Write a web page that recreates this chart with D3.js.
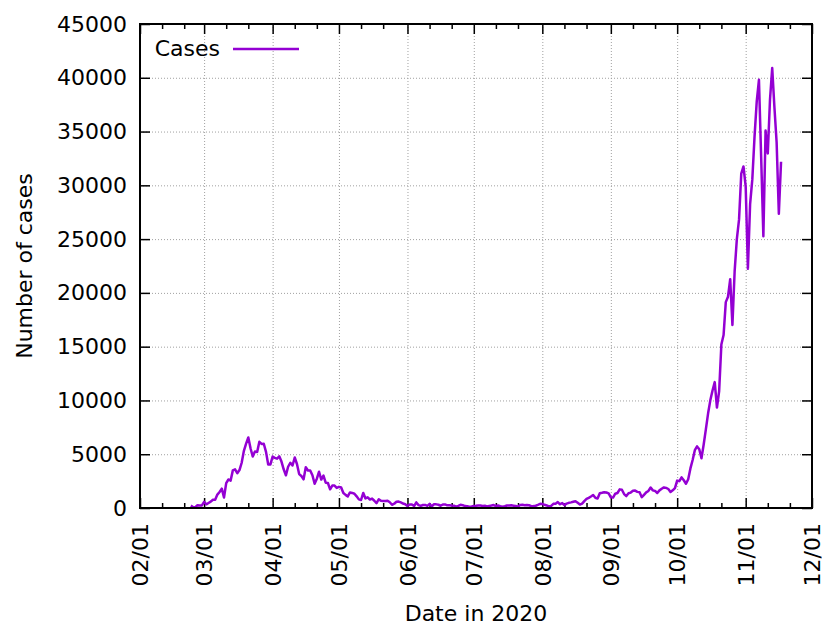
<!DOCTYPE html>
<html>
<head>
<meta charset="utf-8">
<script src="https://cdn.jsdelivr.net/npm/d3@7"></script>
<style>
body { margin: 0; background: #fff; }
svg { display: block; font-family: "DejaVu Sans", sans-serif; }
.tick text { font-size: 22px; font-family: "DejaVu Sans", sans-serif; fill: #000; }
.axis .tick line { stroke: #000; stroke-width: 1.5; }
.grid .tick line { stroke: #a0a0a0; stroke-width: 1; stroke-dasharray: 1,2; }
</style>
</head>
<body>
<svg id="chart"></svg>
<script>
const width = 822;
const height = 625;
const margin = {top: 24, right: 10, bottom: 117, left: 140};

// daily new cases, first value on 2020-02-24
const feb = [221, 93, 78, 250, 238, 240];
const mar = [566, 342, 466, 587, 769, 778, 1247, 1492, 1797, 977, 2313, 2651, 2547, 3497, 3590, 3233,
    3526, 4207, 5322, 5986, 6557, 5560, 4789, 5249, 5210, 6153, 5959, 5974, 5217, 4050, 4053];
const apr = [4782, 4668, 4585, 4805, 4316, 3599, 3039, 3836, 4204, 3951, 4694, 4092, 3153, 2972, 2667,
    3786, 3493, 3491, 3047, 2256, 2729, 3370, 2646, 3021, 2357, 2324, 1739, 2091, 2086, 1872];
const may = [1965, 1900, 1389, 1221, 1075, 1444, 1401, 1327, 1083, 802, 744, 1402, 888, 992, 789, 875,
    675, 451, 813, 665, 642, 652, 669, 531, 300, 397, 584, 593, 516, 416, 355];
const jun = [178, 318, 321, 177, 518, 270, 197, 280, 283, 202, 379, 163, 346, 338, 301, 210, 329, 333,
    251, 262, 224, 218, 122, 190, 296, 259, 175, 174, 126, 142];
const jul = [187, 201, 223, 235, 192, 208, 138, 193, 229, 276, 188, 234, 169, 114, 162, 230, 233, 249,
    218, 190, 129, 282, 306, 252, 275, 255, 170, 181, 212, 289, 386];
const aug = [379, 295, 239, 159, 190, 384, 402, 552, 347, 463, 259, 412, 481, 523, 574, 629, 479, 320,
    403, 642, 845, 947, 1071, 1210, 953, 878, 1367, 1411, 1462, 1444, 1365];
const sep = [996, 975, 1326, 1397, 1733, 1695, 1297, 1108, 1370, 1434, 1597, 1616, 1501, 1458, 1008,
    1229, 1452, 1585, 1907, 1638, 1587, 1392, 1640, 1786, 1912, 1869, 1766, 1494, 1648, 1851];
const oct = [2548, 2499, 2844, 2578, 2257, 2677, 3678, 4458, 5372, 5724, 5456, 4619, 5901, 7332, 8804,
    10010, 10925, 11705, 9338, 10874, 15199, 16079, 19143, 19644, 21273, 17012, 21994, 24991, 26831,
    31084, 31758];
const nov = [29907, 22253, 28244, 30550, 34505, 37809, 39811, 32616, 25271, 35098, 32961, 37978, 40902,
    37255, 33979, 27354, 32191];

const xTickLabels = ["02/01", "03/01", "04/01", "05/01", "06/01", "07/01", "08/01", "09/01", "10/01", "11/01", "12/01"];
const yTicks = [0, 5000, 10000, 15000, 20000, 25000, 30000, 35000, 40000, 45000];
const seriesName = "Cases";

const startDate = new Date(Date.UTC(2020, 1, 24));
const cases = [].concat(feb, mar, apr, may, jun, jul, aug, sep, oct, nov);
const data = cases.map((v, i) => ({date: d3.utcDay.offset(startDate, i), value: v}));

const monthTicks = xTickLabels.map(s => new Date(Date.UTC(2020, +s.slice(0, 2) - 1, 1)));
const minorTicks = [];
monthTicks.slice(0, -1).forEach(m => {
    minorTicks.push(d3.utcDay.offset(m, 10), d3.utcDay.offset(m, 20));
});

const svg = d3.select("#chart")
    .attr("width", width)
    .attr("height", height);

const x = d3.scaleUtc()
    .domain([monthTicks[0], monthTicks[monthTicks.length - 1]])
    .range([margin.left, width - margin.right]);

const y = d3.scaleLinear()
    .domain([0, 45000])
    .range([height - margin.bottom, margin.top]);

const plotW = width - margin.left - margin.right;
const plotH = height - margin.top - margin.bottom;

// grid
svg.append("g")
    .attr("class", "grid")
    .attr("transform", `translate(0, ${y(0)})`)
    .call(d3.axisBottom(x).tickValues(monthTicks).tickSize(-plotH).tickFormat(""))
    .call(g => g.select(".domain").remove());

svg.append("g")
    .attr("class", "grid")
    .attr("transform", `translate(${margin.left}, 0)`)
    .call(d3.axisLeft(y).tickValues(yTicks).tickSize(-plotW).tickFormat(""))
    .call(g => g.select(".domain").remove());

// ticks (inward, mirrored)
svg.append("g")
    .attr("class", "axis")
    .attr("transform", `translate(0, ${y(0)})`)
    .call(d3.axisBottom(x).tickValues(monthTicks).tickSizeInner(-10).tickSizeOuter(0)
        .tickFormat((d, i) => xTickLabels[i]))
    .call(g => g.select(".domain").remove())
    .call(g => g.selectAll(".tick text")
        .attr("transform", "rotate(-90)")
        .attr("text-anchor", "end")
        .attr("x", -15)
        .attr("y", 0)
        .attr("dy", "0.35em"));

svg.append("g")
    .attr("class", "axis")
    .attr("transform", `translate(0, ${y(0)})`)
    .call(d3.axisBottom(x).tickValues(minorTicks).tickSizeInner(-5).tickSizeOuter(0).tickFormat(""))
    .call(g => g.select(".domain").remove());

svg.append("g")
    .attr("class", "axis")
    .attr("transform", `translate(0, ${margin.top})`)
    .call(d3.axisTop(x).tickValues(monthTicks).tickSizeInner(-10).tickSizeOuter(0).tickFormat(""))
    .call(g => g.select(".domain").remove());

svg.append("g")
    .attr("class", "axis")
    .attr("transform", `translate(0, ${margin.top})`)
    .call(d3.axisTop(x).tickValues(minorTicks).tickSizeInner(-5).tickSizeOuter(0).tickFormat(""))
    .call(g => g.select(".domain").remove());

svg.append("g")
    .attr("class", "axis")
    .attr("transform", `translate(${margin.left}, 0)`)
    .call(d3.axisLeft(y).tickValues(yTicks).tickSizeInner(-10).tickSizeOuter(0).tickPadding(13)
        .tickFormat(d3.format("d")))
    .call(g => g.select(".domain").remove());

svg.append("g")
    .attr("class", "axis")
    .attr("transform", `translate(${width - margin.right}, 0)`)
    .call(d3.axisRight(y).tickValues(yTicks).tickSizeInner(-10).tickSizeOuter(0).tickFormat(""))
    .call(g => g.select(".domain").remove());

// data line
const line = d3.line()
    .x(d => x(d.date))
    .y(d => y(d.value));

svg.append("path")
    .datum(data)
    .attr("fill", "none")
    .attr("stroke", "#9400d3")
    .attr("stroke-width", 2.5)
    .attr("stroke-linejoin", "round")
    .attr("d", line);

// border
svg.append("rect")
    .attr("x", margin.left)
    .attr("y", margin.top)
    .attr("width", plotW)
    .attr("height", plotH)
    .attr("fill", "none")
    .attr("stroke", "#000")
    .attr("stroke-width", 2);

// legend
svg.append("text")
    .attr("x", 220)
    .attr("y", 56)
    .attr("text-anchor", "end")
    .attr("font-size", 22)
    .text(seriesName);

svg.append("line")
    .attr("x1", 233)
    .attr("x2", 299)
    .attr("y1", 49)
    .attr("y2", 49)
    .attr("stroke", "#9400d3")
    .attr("stroke-width", 2.5);

// axis labels
svg.append("text")
    .attr("x", margin.left + plotW / 2)
    .attr("y", 621)
    .attr("text-anchor", "middle")
    .attr("font-size", 22)
    .text("Date in 2020");

svg.append("text")
    .attr("transform", `translate(32, ${margin.top + plotH / 2}) rotate(-90)`)
    .attr("text-anchor", "middle")
    .attr("font-size", 22)
    .text("Number of cases");
</script>
</body>
</html>
